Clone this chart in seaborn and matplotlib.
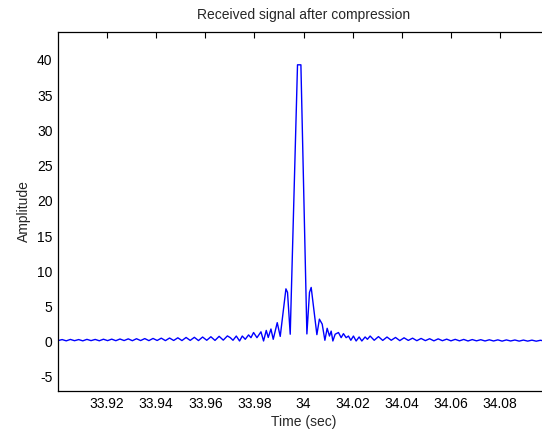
import numpy as np
import pandas as pd
import matplotlib
matplotlib.use("Agg")
import matplotlib.pyplot as plt
import seaborn as sns

# ---- data ----
# outer ripples, left of the main lobe (far -> near), alternating trough / peak
left_troughs = [0.15, 0.12, 0.14, 0.12, 0.15, 0.13, 0.15, 0.14, 0.16, 0.14, 0.16,
                0.15, 0.17, 0.15, 0.17, 0.16, 0.18, 0.16, 0.20, 0.18, 0.22]
left_peaks = [0.30, 0.32, 0.30, 0.33, 0.32, 0.35, 0.36, 0.38, 0.40, 0.42, 0.44,
              0.46, 0.50, 0.52, 0.55, 0.60, 0.62, 0.66, 0.70, 0.76, 0.82]
left_span = (33.900, 33.969)

# central region vertices
center_time = [33.97018, 33.97128, 33.97262, 33.97396, 33.97506, 33.97628, 33.97762,
               33.97860, 33.97966, 33.98104, 33.98267, 33.98373, 33.98483, 33.98564,
               33.98674, 33.98767, 33.98930, 33.99052, 33.99284, 33.99349, 33.99459,
               33.99756, 33.99894, 34.00138, 34.00244, 34.00313, 34.00545, 34.00647,
               34.00761, 34.00871, 34.00964, 34.01058, 34.01127, 34.01196, 34.01290,
               34.01424, 34.01534, 34.01627, 34.01737, 34.01831, 34.01928, 34.02034,
               34.02144, 34.02266, 34.02376, 34.02510, 34.02604, 34.02714]
center_amp = [0.57, 0.20, 0.80, 0.10, 0.80, 0.34, 0.96,
              0.57, 1.30, 0.57, 1.40, 0.10, 1.60, 0.60,
              1.80, 0.34, 2.70, 0.75, 7.50, 7.00, 1.06,
              39.3, 39.3, 1.10, 7.00, 7.70, 1.00, 3.20,
              2.50, 0.20, 1.90, 0.80, 1.50, 0.10, 1.06,
              1.30, 0.57, 1.14, 0.57, 0.80, 0.20, 0.80,
              0.10, 0.67, 0.10, 0.67, 0.34, 0.80]

# outer ripples, right of the main lobe (near -> far), alternating trough / peak
right_troughs = [0.20, 0.18, 0.20, 0.15, 0.18, 0.14, 0.15, 0.12, 0.14, 0.12, 0.12,
                 0.10, 0.12, 0.10, 0.10, 0.08, 0.10, 0.08, 0.08, 0.07, 0.08]
right_peaks = [0.72, 0.66, 0.60, 0.55, 0.50, 0.46, 0.42, 0.40, 0.36, 0.33, 0.32,
               0.30, 0.28, 0.27, 0.26, 0.25, 0.24, 0.23, 0.22, 0.20, 0.20]
right_span = (34.0288, 34.1000)

x_ticks = [33.92, 33.94, 33.96, 33.98, 34.0, 34.02, 34.04, 34.06, 34.08]
x_tick_labels = ["33.92", "33.94", "33.96", "33.98", "34", "34.02", "34.04", "34.06", "34.08"]
y_ticks = [-5, 0, 5, 10, 15, 20, 25, 30, 35, 40]

# ---- assemble series ----
left_amp = [v for pair in zip(left_troughs, left_peaks) for v in pair]
left_time = np.linspace(left_span[0], left_span[1], len(left_amp))
right_amp = [v for pair in zip(right_troughs, right_peaks) for v in pair]
right_time = np.linspace(right_span[0], right_span[1], len(right_amp))

time = np.concatenate([left_time, center_time, right_time])
amp = np.concatenate([left_amp, center_amp, right_amp])
df = pd.DataFrame({"Time (sec)": time, "Amplitude": amp})

sns.set_style("white")
plt.rcParams["font.family"] = ["Liberation Sans", "DejaVu Sans"]
plt.rcParams["axes.unicode_minus"] = False

fig = plt.figure(figsize=(5.42, 4.30), dpi=100)
ax = fig.add_axes([58 / 542, 1 - 391 / 430, (549 - 58) / 542, (391 - 31.7) / 430])

sns.lineplot(data=df, x="Time (sec)", y="Amplitude", ax=ax, color="#0000ff",
             linewidth=1.0, estimator=None, sort=False)

ax.set_xlim(33.9, 34.1)
ax.set_ylim(-7, 44)
ax.set_xticks(x_ticks)
ax.set_xticklabels(x_tick_labels)
ax.set_yticks(y_ticks)
ax.tick_params(direction="in", length=4, width=0.8, top=True, right=True,
               labelsize=10, colors="black", pad=4)
for s in ax.spines.values():
    s.set_color("black")
    s.set_linewidth(0.9)
    s.set_visible(True)

ax.set_title("Received signal after compression", fontsize=10, pad=9)
ax.set_xlabel("Time (sec)", fontsize=10, labelpad=3)
ax.set_ylabel("Amplitude", fontsize=10, labelpad=4)

fig.savefig("out.png", dpi=100)
